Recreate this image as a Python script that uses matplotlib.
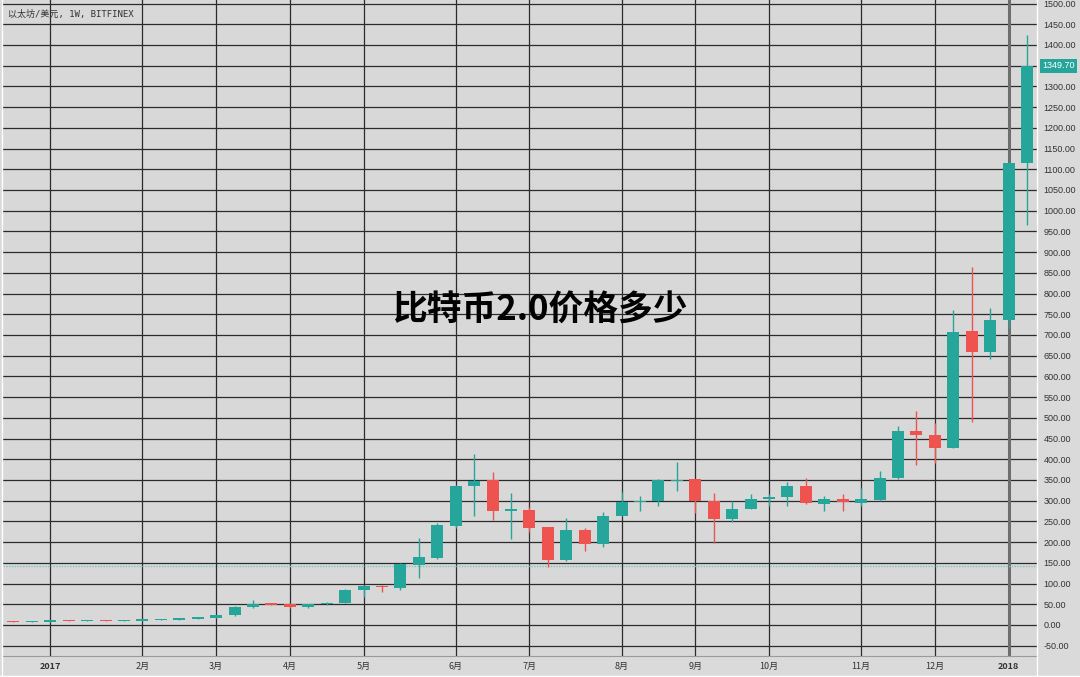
import numpy as np
import matplotlib
matplotlib.use('Agg')
import matplotlib.pyplot as plt
from matplotlib.lines import Line2D

plt.rcParams['font.family'] = ['Noto Sans CJK SC', 'DejaVu Sans']

# weekly candles, ETH/USD, Bitfinex (week index 0 = 2016-12-19)
opens = [8, 7, 8, 10, 9.5, 10.5, 10, 10.5, 11, 13, 15, 17, 23, 43, 52, 50, 43, 50, 53, 84,
         95, 90, 145, 161, 240, 336, 350, 276, 278, 236, 157, 228, 196, 264, 296, 298, 347, 352,
         298, 255, 280, 304, 308, 336, 292, 304, 294, 302, 354, 469, 459, 428, 709, 659, 736, 1116]
closes = [7, 8, 10, 9.5, 10, 10, 11, 11, 13, 14, 17, 23, 43, 51, 49, 43, 50, 53, 84, 93,
          91, 146, 163, 241, 336, 348, 276, 279, 233, 157, 228, 196, 264, 296, 299, 350, 349, 298,
          255, 281, 304, 310, 336, 294, 303, 296, 303, 354, 469, 458, 428, 707, 659, 736, 1116, 1349.7]
highs = [9, 9, 12, 11, 11, 11, 12, 12, 14, 15, 18, 25, 45, 59, 53, 52, 51, 55, 86, 96,
         96, 150, 210, 245, 338, 413, 368, 318, 285, 237, 258, 233, 272, 320, 311, 352, 394, 353,
         318, 298, 315, 316, 346, 354, 311, 316, 330, 372, 481, 517, 487, 760, 864, 766, 1117, 1425]
lows = [6, 7, 7, 9, 9, 9.5, 10, 10, 11, 12.5, 14, 16, 22, 42, 47, 41, 42, 49, 52, 67,
        79, 85, 113, 158, 234, 263, 253, 207, 225, 139, 155, 179, 188, 262, 274, 286, 324, 271,
        199, 249, 279, 288, 287, 291, 275, 276, 287, 300, 352, 387, 390, 427, 490, 641, 716, 965]

month_idx = [2, 7, 11, 15, 19, 24, 28, 33, 37, 41, 46, 50, 54]
month_labels = ['2017', '2月', '3月', '4月', '5月', '6月', '7月', '8月', '9月', '10月', '11月', '12月', '2018']
y_ticks = list(range(-50, 1501, 50))
last_price = 1349.70
dotted_level = 142

up = '#26a69a'
down = '#ef5350'
bg = '#d8d8d8'

fig = plt.figure(figsize=(10.8, 6.77), dpi=100, facecolor='#dadada')
ax = fig.add_axes([0.003, 0.031, 0.957, 0.969], facecolor=bg)

x = np.arange(len(opens))
o = np.array(opens, dtype=float)
c = np.array(closes, dtype=float)
cols = [up if cc >= oo else down for oo, cc in zip(o, c)]
body_lo = np.minimum(o, c)
body_h = np.maximum(np.abs(c - o), 3)

# grid
for v in y_ticks:
    ax.axhline(v, color='#2b2b2b', lw=0.9, zorder=1)
for i, m in zip(month_idx, month_labels):
    if m == '2018':
        ax.axvline(i, color='#6e6e6e', lw=2.2, zorder=1)
    else:
        ax.axvline(i, color='#2b2b2b', lw=0.9, zorder=1)

ax.axhline(dotted_level, color='#7fc4bc', lw=1, ls=(0, (1, 1)), zorder=2)

ax.vlines(x, lows, highs, colors=cols, lw=1, zorder=3)
ax.bar(x, body_h, bottom=body_lo, width=0.65, color=cols, zorder=4, linewidth=0)

ax.set_xlim(-0.55, 55.53)
ax.set_ylim(-75, 1508.5)

ax.yaxis.tick_right()
ax.set_yticks(y_ticks)
ax.set_yticklabels(['%.2f' % v if v != 0 else '0.00' for v in y_ticks], fontsize=6.5,
                   color='#333333', family=['Liberation Sans', 'DejaVu Sans'])
ax.tick_params(axis='y', length=0, pad=5)
ax.set_xticks(month_idx)
ax.set_xticklabels(month_labels, fontsize=6.5, color='#333333')
for lab in ax.get_xticklabels():
    if lab.get_text() in ('2017', '2018'):
        lab.set_fontweight('bold')
ax.tick_params(axis='x', length=0, pad=4)

for s in ['top', 'left', 'right']:
    ax.spines[s].set_visible(False)
ax.spines['bottom'].set_color('#9a9a9a')

# last price tag
ax.annotate('%.2f' % last_price, xy=(1.0, last_price), xycoords=('axes fraction', 'data'),
            xytext=(4, 0), textcoords='offset points', ha='left', va='center',
            fontsize=6.5, color='white', family=['Liberation Sans', 'DejaVu Sans'],
            bbox=dict(boxstyle='square,pad=0.25', fc=up, ec='none'))

fig.add_artist(Line2D([1037 / 1080, 1037 / 1080], [0, 1], color='white', lw=1))
fig.add_artist(Line2D([0.002, 0.002], [0, 1], color='white', lw=1))
fig.add_artist(Line2D([0, 1], [0.002, 0.002], color='white', lw=1))

fig.text(8 / 1080, 1 - 14 / 677, '以太坊/美元, 1W, BITFINEX', fontsize=6.5, color='#333333',
         va='center', family=['DejaVu Sans Mono', 'Noto Sans CJK SC'])
fig.text(540 / 1080, 1 - 310 / 677, '比特币2.0价格多少', fontsize=25, fontweight='bold',
         color='black', ha='center', va='center')

fig.savefig('out.png', dpi=100, facecolor=fig.get_facecolor())
